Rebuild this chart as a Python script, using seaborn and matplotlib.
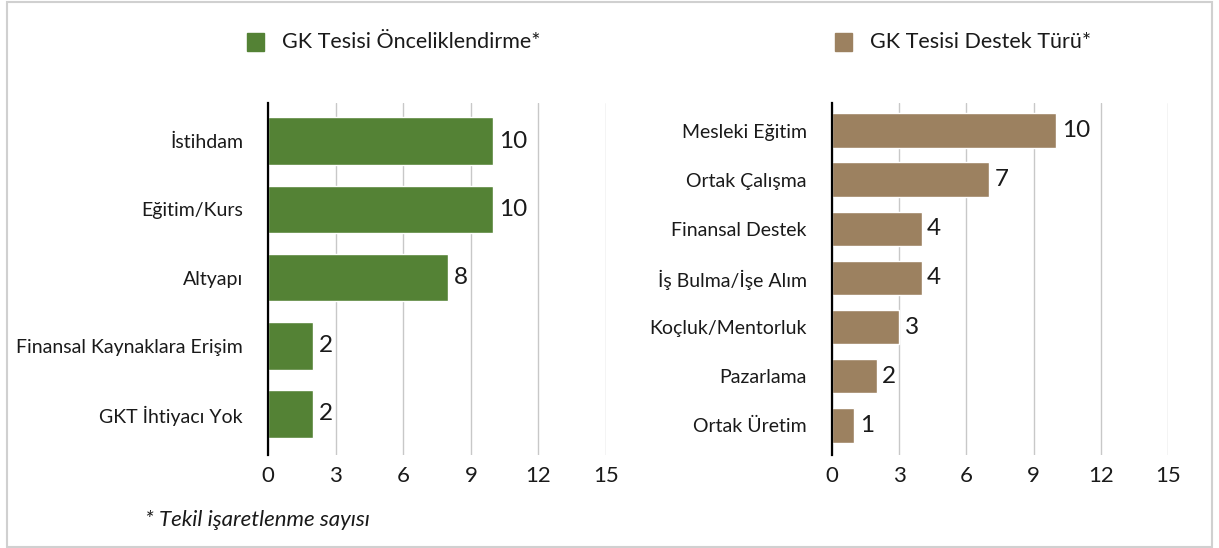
import matplotlib
matplotlib.use("Agg")
import matplotlib.pyplot as plt
import seaborn as sns
import pandas as pd
from matplotlib.patches import Rectangle

# Data
left_labels = ["İstihdam", "Eğitim/Kurs", "Altyapı", "Finansal Kaynaklara Erişim", "GKT İhtiyacı Yok"]
left_values = [10, 10, 8, 2, 2]
right_labels = ["Mesleki Eğitim", "Ortak Çalışma", "Finansal Destek", "İş Bulma/İşe Alım",
                "Koçluk/Mentorluk", "Pazarlama", "Ortak Üretim"]
right_values = [10, 7, 4, 4, 3, 2, 1]
x_ticks = [0, 3, 6, 9, 12, 15]
left_title = "GK Tesisi Önceliklendirme*"
right_title = "GK Tesisi Destek Türü*"
footnote = "* Tekil işaretlenme sayısı"

green = "#548235"
brown = "#9c8160"

sns.set_theme(style="white")
plt.rcParams["font.family"] = ["Lato", "DejaVu Sans"]

fig = plt.figure(figsize=(12.19, 5.48), dpi=100)
ax1 = fig.add_axes([0.2199, 0.170, 0.2773, 0.642])
ax2 = fig.add_axes([0.6825, 0.170, 0.2757, 0.642])


def draw(ax, labels, values, color):
    df = pd.DataFrame({"label": labels, "value": values})
    sns.barplot(data=df, x="value", y="label", color=color, width=0.7,
                saturation=1, ax=ax, zorder=3)
    for c in ax.containers:
        ax.bar_label(c, fmt="%d", padding=4, fontsize=17.5, color="#1a1a1a")
    n = len(labels)
    ax.set_xlim(0, 15)
    ax.set_ylim(n - 1 + 0.6, -0.56)
    ax.set_xticks(x_ticks)
    ax.set_xlabel("")
    ax.set_ylabel("")
    ax.xaxis.grid(True, color="#c8c8c8", linewidth=1, zorder=0)
    ax.set_axisbelow(True)
    for s in ["top", "right", "bottom"]:
        ax.spines[s].set_visible(False)
    ax.spines["left"].set_color("black")
    ax.spines["left"].set_linewidth(1.6)
    ax.spines["left"].set_zorder(4)
    ax.tick_params(axis="x", length=0, pad=8, labelsize=16, labelcolor="#1a1a1a")
    ax.tick_params(axis="y", length=0, pad=18, labelsize=14, labelcolor="#1a1a1a")


draw(ax1, left_labels, left_values, green)
draw(ax2, right_labels, right_values, brown)

# legend-like headers
fig.patches.append(Rectangle((247 / 1219, 1 - 51 / 548), 17 / 1219, 18 / 548,
                             transform=fig.transFigure, color=green))
fig.text(282 / 1219, 1 - 42 / 548, left_title, fontsize=15.5, va="center", color="#1a1a1a")
fig.patches.append(Rectangle((835 / 1219, 1 - 51 / 548), 17 / 1219, 18 / 548,
                             transform=fig.transFigure, color=brown))
fig.text(870 / 1219, 1 - 42 / 548, right_title, fontsize=15.5, va="center", color="#1a1a1a")

fig.text(145 / 1219, 1 - 520 / 548, footnote, fontsize=16, style="italic",
         va="center", color="#1a1a1a")

# outer border
fig.patches.append(Rectangle((7 / 1219, 1 / 548), 1205 / 1219, 545 / 548,
                             transform=fig.transFigure, fill=False,
                             edgecolor="#d0d0d0", linewidth=1.5))

fig.savefig("out.png", dpi=100)
plt.close(fig)
